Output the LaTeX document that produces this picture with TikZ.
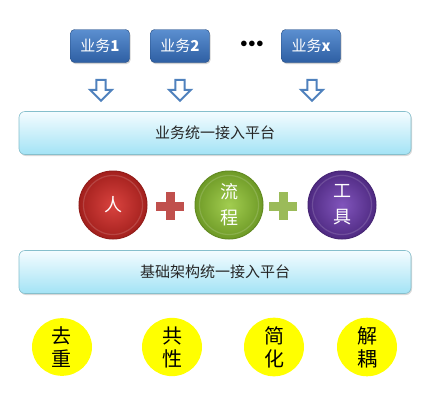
\documentclass[tikz,border=0pt]{standalone}
\usepackage{fontspec}
\setmainfont{Noto Sans CJK SC}
\usetikzlibrary{shapes.arrows,shapes.geometric,shadows,calc}
\definecolor{boxtop}{HTML}{5B8FD0}
\definecolor{boxbot}{HTML}{2E5FA3}
\definecolor{arrowblue}{HTML}{4F81BD}
\definecolor{bartop}{HTML}{F4FCFF}
\definecolor{barbot}{HTML}{A3E3F5}
\definecolor{barline}{HTML}{86BFCC}
\definecolor{redin}{HTML}{D9433F}
\definecolor{redout}{HTML}{A3201D}
\definecolor{greenin}{HTML}{A2CD50}
\definecolor{greenout}{HTML}{6E9A26}
\definecolor{purin}{HTML}{8155BC}
\definecolor{purout}{HTML}{4F2A82}
\definecolor{plusred}{HTML}{C0504D}
\definecolor{plusgreen}{HTML}{9BBB59}
\definecolor{ybg}{HTML}{FFFF00}
\tikzset{
  svc/.style={rounded corners=4pt, top color=boxtop, bottom color=boxbot, draw=boxbot!80!black, line width=0.4pt,
    minimum width=59pt, minimum height=33pt, text=white, font=\fontsize{15}{17}\selectfont,
    drop shadow={shadow xshift=1pt, shadow yshift=-1.5pt, opacity=0.35}},
  downarr/.style={single arrow, draw=arrowblue, fill=white, line width=2pt, rotate=-90,
    minimum height=21pt, minimum width=22pt, single arrow head extend=3.5pt, single arrow tip angle=90,
    inner sep=1.5pt},
  bar/.style={rounded corners=6pt, top color=bartop, bottom color=barbot, draw=barline, line width=0.6pt,
    minimum width=392pt, minimum height=43pt, font=\fontsize{15}{17}\selectfont, text=black!85,
    drop shadow={shadow xshift=1pt, shadow yshift=-1.5pt, opacity=0.3}},
  ballnode/.style={circle, minimum size=68pt, inner sep=0pt, text=white, font=\fontsize{18}{26}\selectfont,
    align=center, line width=1pt},
  ynode/.style={ellipse, fill=ybg, minimum width=60pt, minimum height=54pt, inner sep=0pt,
    font=\fontsize{20}{23}\selectfont, align=center},
}
\begin{document}
\begin{tikzpicture}[x=1pt,y=-1pt]
\useasboundingbox[fill=white] (0,0) rectangle (421,405);
% service boxes
\node[svc] (s1) at (100,46) {业务\textbf{1}};
\node[svc] (s2) at (180,46) {业务\textbf{2}};
\node (dots) at (252,44) {\fontsize{14}{14}\selectfont\textbf{$\bullet\!\bullet\!\bullet$}};
\node[svc] (sx) at (311,46) {业务\textbf{x}};
% arrows
\node[downarr] (a1) at (101,88) {};
\node[downarr] (a2) at (180,88) {};
\node[downarr] (ax) at (312,88) {};
% top bar
\node[bar] (top) at (215,133) {业务统一接入平台};
% balls
\node[ballnode, shading=radial, inner color=redin, outer color=redout, draw=redout!90!black] (ren) at (113,205) {人};
\node[ballnode, shading=radial, inner color=greenin, outer color=greenout, draw=greenout!90!black] (liu) at (229,205) {流\\程};
\node[ballnode, shading=radial, inner color=purin, outer color=purout, draw=purout!90!black] (gj) at (342,205) {工\\具};
\draw[white, opacity=0.15, line width=1.2pt] (ren.center) circle (29.5);
\draw[white, opacity=0.15, line width=1.2pt] (liu.center) circle (29.5);
\draw[white, opacity=0.15, line width=1.2pt] (gj.center) circle (29.5);
% plus signs
\coordinate (p1) at (170,206);
\coordinate (p2) at (283,206);
\fill[plusred] ($(p1)+(-14,-4.5)$) rectangle ($(p1)+(14,4.5)$);
\fill[plusred] ($(p1)+(-4.5,-14)$) rectangle ($(p1)+(4.5,14)$);
\fill[plusgreen] ($(p2)+(-14,-4.5)$) rectangle ($(p2)+(14,4.5)$);
\fill[plusgreen] ($(p2)+(-4.5,-14)$) rectangle ($(p2)+(4.5,14)$);
% bottom bar
\node[bar] (bot) at (215,272) {基础架构统一接入平台};
% yellow
\node[ynode] (y1) at (62,347) {去\\重};
\node[ynode] (y2) at (172,347) {共\\性};
\node[ynode] (y3) at (274,347) {简\\化};
\node[ynode] (y4) at (367,347) {解\\耦};
\end{tikzpicture}
\end{document}
